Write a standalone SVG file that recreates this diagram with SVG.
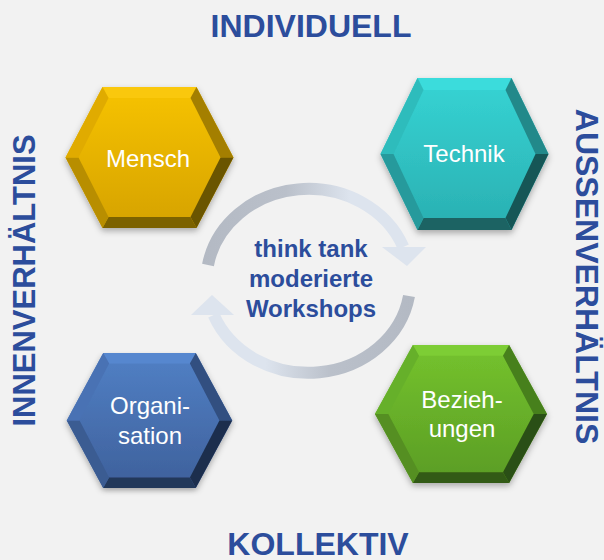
<svg xmlns="http://www.w3.org/2000/svg" width="604" height="560" viewBox="0 0 604 560">
  <style>
    .title { font-family: "Liberation Sans", Arial, sans-serif; font-weight: bold; fill: #2c4d9c; }
    .center { font-family: "Liberation Sans", Arial, sans-serif; font-weight: bold; font-size: 24px; fill: #2c4d9c; text-anchor: middle; }
    .label { font-family: "Liberation Sans", Arial, sans-serif; font-size: 24px; fill: #ffffff; text-anchor: middle; }
    #mensch .face { fill: url(#gM); }
    #mensch .t { fill: #fac80c; } #mensch .ul { fill: #e0ab00; } #mensch .ur { fill: #a47f00; }
    #mensch .lr { fill: #6b5500; } #mensch .b { fill: #7b6200; } #mensch .ll { fill: #b88e00; }
    #technik .face { fill: url(#gT); }
    #technik .t { fill: #3adcdc; } #technik .ul { fill: #2fbcbc; } #technik .ur { fill: #24898a; }
    #technik .lr { fill: #165656; } #technik .b { fill: #1c6464; } #technik .ll { fill: #279a9c; }
    #organisation .face { fill: url(#gO); }
    #organisation .t { fill: #5787cf; } #organisation .ul { fill: #4972b4; } #organisation .ur { fill: #314f80; }
    #organisation .lr { fill: #1e2f4e; } #organisation .b { fill: #24375a; } #organisation .ll { fill: #3a5b92; }
    #beziehungen .face { fill: url(#gB); }
    #beziehungen .t { fill: #7dcd34; } #beziehungen .ul { fill: #66b02a; } #beziehungen .ur { fill: #47801c; }
    #beziehungen .lr { fill: #2c5012; } #beziehungen .b { fill: #325a15; } #beziehungen .ll { fill: #558f21; }
    .arc { fill: none; stroke-width: 12; }
  </style>
  <defs>
    <linearGradient id="gM" x1="0" y1="0" x2="0" y2="1">
      <stop offset="0" stop-color="#f7c300"/><stop offset="1" stop-color="#d5a200"/>
    </linearGradient>
    <linearGradient id="gT" x1="0" y1="0" x2="0" y2="1">
      <stop offset="0" stop-color="#36d4d4"/><stop offset="1" stop-color="#2aafb1"/>
    </linearGradient>
    <linearGradient id="gO" x1="0" y1="0" x2="0" y2="1">
      <stop offset="0" stop-color="#5180c5"/><stop offset="1" stop-color="#3e609b"/>
    </linearGradient>
    <linearGradient id="gB" x1="0" y1="0" x2="0" y2="1">
      <stop offset="0" stop-color="#75c32e"/><stop offset="1" stop-color="#5a9c24"/>
    </linearGradient>
    <linearGradient id="gUp" gradientUnits="userSpaceOnUse" x1="200" y1="0" x2="415" y2="0">
      <stop offset="0" stop-color="#b3b9c3"/><stop offset="0.4" stop-color="#bac0ca"/><stop offset="0.7" stop-color="#dde4ee"/><stop offset="1" stop-color="#dde4ee"/>
    </linearGradient>
    <linearGradient id="gDown" gradientUnits="userSpaceOnUse" x1="418" y1="0" x2="200" y2="0">
      <stop offset="0" stop-color="#b3b9c3"/><stop offset="0.4" stop-color="#bac0ca"/><stop offset="0.7" stop-color="#dde4ee"/><stop offset="1" stop-color="#dde4ee"/>
    </linearGradient>
    <filter id="sh" x="-20%" y="-20%" width="140%" height="140%">
      <feDropShadow dx="0" dy="3" stdDeviation="3" flood-color="#000" flood-opacity="0.3"/>
    </filter>
  </defs>

  <rect width="604" height="560" fill="#f2f2f2"/>

  <g id="titles">
    <text class="title" x="311" y="37" font-size="32" text-anchor="middle">INDIVIDUELL</text>
    <text class="title" x="318" y="555" font-size="32" text-anchor="middle">KOLLEKTIV</text>
    <text class="title" font-size="31" text-anchor="middle" transform="translate(35,280.5) rotate(-90)">INNENVERHÄLTNIS</text>
    <text class="title" font-size="32" text-anchor="middle" transform="translate(576,276.5) rotate(90)">AUSSENVERHÄLTNIS</text>
  </g>

  <g id="connectors">
    <path class="arc" stroke="url(#gUp)" d="M208,265 A102,92 0 0 1 403.3,247"/>
    <polygon points="382,247 426,247 407,266" fill="#dde4ee"/>
    <path class="arc" stroke="url(#gDown)" d="M409,296 A102,92 0 0 1 213.7,315"/>
    <polygon points="191,315 234,315 212,295" fill="#dde4ee"/>
  </g>

  <g id="center-text">
    <text class="center" x="311" y="257">think tank</text>
    <text class="center" x="311" y="287">moderierte</text>
    <text class="center" x="311" y="317">Workshops</text>
  </g>

  <g id="mensch">
    <g transform="translate(149.5,157.5) scale(1,1.007)" filter="url(#sh)">
      <polygon class="face" points="-47,-70 47,-70 84,0 47,70 -47,70 -84,0"/>
      <polygon class="t" points="-47,-70 47,-70 41,-59 -41,-59"/>
      <polygon class="ur" points="47,-70 84,0 71,0 41,-59"/>
      <polygon class="lr" points="84,0 47,70 41,59 71,0"/>
      <polygon class="b" points="47,70 -47,70 -41,59 41,59"/>
      <polygon class="ll" points="-47,70 -84,0 -71,0 -41,59"/>
      <polygon class="ul" points="-84,0 -47,-70 -41,-59 -71,0"/>
    </g>
    <text class="label" x="148" y="167">Mensch</text>
  </g>

  <g id="technik">
    <g transform="translate(464.5,154) scale(1,1.086)" filter="url(#sh)">
      <polygon class="face" points="-47,-70 47,-70 84,0 47,70 -47,70 -84,0"/>
      <polygon class="t" points="-47,-70 47,-70 41,-59 -41,-59"/>
      <polygon class="ur" points="47,-70 84,0 71,0 41,-59"/>
      <polygon class="lr" points="84,0 47,70 41,59 71,0"/>
      <polygon class="b" points="47,70 -47,70 -41,59 41,59"/>
      <polygon class="ll" points="-47,70 -84,0 -71,0 -41,59"/>
      <polygon class="ul" points="-84,0 -47,-70 -41,-59 -71,0"/>
    </g>
    <text class="label" x="464" y="162">Technik</text>
  </g>

  <g id="organisation">
    <g transform="translate(149.5,420.5) scale(0.985,0.965)" filter="url(#sh)">
      <polygon class="face" points="-47,-70 47,-70 84,0 47,70 -47,70 -84,0"/>
      <polygon class="t" points="-47,-70 47,-70 41,-59 -41,-59"/>
      <polygon class="ur" points="47,-70 84,0 71,0 41,-59"/>
      <polygon class="lr" points="84,0 47,70 41,59 71,0"/>
      <polygon class="b" points="47,70 -47,70 -41,59 41,59"/>
      <polygon class="ll" points="-47,70 -84,0 -71,0 -41,59"/>
      <polygon class="ul" points="-84,0 -47,-70 -41,-59 -71,0"/>
    </g>
    <text class="label" x="150" y="414">Organi-</text>
    <text class="label" x="150" y="444">sation</text>
  </g>

  <g id="beziehungen">
    <g transform="translate(461,414) scale(1.024,0.986)" filter="url(#sh)">
      <polygon class="face" points="-47,-70 47,-70 84,0 47,70 -47,70 -84,0"/>
      <polygon class="t" points="-47,-70 47,-70 41,-59 -41,-59"/>
      <polygon class="ur" points="47,-70 84,0 71,0 41,-59"/>
      <polygon class="lr" points="84,0 47,70 41,59 71,0"/>
      <polygon class="b" points="47,70 -47,70 -41,59 41,59"/>
      <polygon class="ll" points="-47,70 -84,0 -71,0 -41,59"/>
      <polygon class="ul" points="-84,0 -47,-70 -41,-59 -71,0"/>
    </g>
    <text class="label" x="462" y="408">Bezieh-</text>
    <text class="label" x="462" y="437">ungen</text>
  </g>
</svg>
